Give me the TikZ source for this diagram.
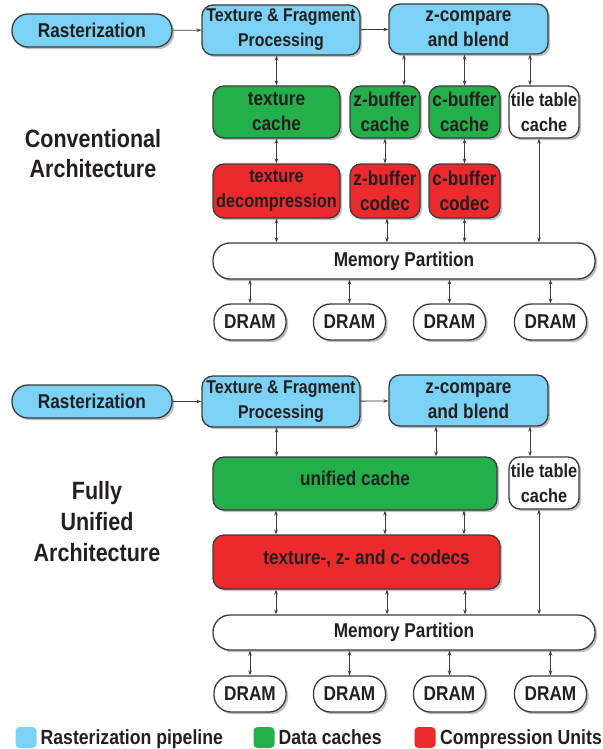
\documentclass[tikz,border=0pt]{standalone}
\usepackage{fontspec}
\setmainfont{Liberation Sans}[FakeStretch=0.86]
\usetikzlibrary{arrows.meta, shadows}
\definecolor{pipeblue}{HTML}{7CD2F4}
\definecolor{cachegreen}{HTML}{23B04B}
\definecolor{codecred}{HTML}{EC2A2E}
\definecolor{inkdark}{HTML}{231F20}
\definecolor{edgegray}{HTML}{3C3C3C}

\begin{document}
\begin{tikzpicture}[x=1pt, y=-1pt,
  >={Stealth[length=5pt, width=3.6pt]},
  unit/.style={draw=edgegray, line width=1.3pt, rounded corners=11pt,
    text=inkdark, align=center, inner sep=0pt,
    font=\fontsize{20}{25}\selectfont\bfseries,
    drop shadow={shadow xshift=2.2pt, shadow yshift=-2.2pt, opacity=0.5}},
  pipe/.style={unit, fill=pipeblue},
  cache/.style={unit, fill=cachegreen},
  codec/.style={unit, fill=codecred},
  plain/.style={unit, fill=white},
  pill/.style={unit, fill=white, rounded corners=17pt},
  link/.style={<->, draw=edgegray, line width=0.9pt},
  flow/.style={->, draw=edgegray, line width=0.9pt},
  keybox/.style={minimum size=21pt, rounded corners=4pt, inner sep=0pt},
  keytext/.style={anchor=base west, inner sep=0pt, text=inkdark,
    font=\fontsize{20.5}{24}\selectfont\bfseries},
]

\useasboundingbox (0,0) rectangle (602,749);

% =============================================
% Conventional architecture
% =============================================
\node[font=\fontsize{25}{30}\selectfont\bfseries, text=inkdark, align=center]
  (conv) at (93,154) {Conventional\\Architecture};

\node[pipe, rounded corners=16pt, minimum width=160pt, minimum height=33pt]
  (ras1) at (92,30.5) {Rasterization};
\node[pipe, minimum width=158pt, minimum height=50pt,
      font=\fontsize{18.5}{25}\selectfont\bfseries]
  (tex1) at (281,30) {Texture \& Fragment\\Processing};
\node[pipe, minimum width=159pt, minimum height=50pt]
  (zcmp1) at (468.5,29) {z-compare\\and blend};

\node[cache, minimum width=127pt, minimum height=52pt] (tcache) at (276.5,112) {texture\\cache};
\node[cache, minimum width=70pt, minimum height=52pt] (zbuf) at (385,112) {z-buffer\\cache};
\node[cache, minimum width=71pt, minimum height=52pt] (cbuf) at (464.5,112) {c-buffer\\cache};
\node[plain, minimum width=70pt, minimum height=52pt,
      font=\fontsize{19}{25}\selectfont\bfseries]
  (ttc1) at (544,112) {tile table\\cache};

\node[codec, minimum width=127pt, minimum height=54pt,
      font=\fontsize{19}{25}\selectfont\bfseries]
  (tdec) at (276.5,191) {texture\\decompression};
\node[codec, minimum width=70pt, minimum height=54pt] (zcod) at (385,191) {z-buffer\\codec};
\node[codec, minimum width=71pt, minimum height=54pt] (ccod) at (464.5,191) {c-buffer\\codec};

\node[pill, minimum width=382pt, minimum height=36pt] (mem1) at (404,261) {Memory Partition};
\foreach \i/\x in {1/250, 2/349.5, 3/449.5, 4/550.5}
  \node[pill, minimum width=72pt, minimum height=36pt] (dramA\i) at (\x,322) {DRAM};

% pipeline
\draw[flow] (ras1) -- (tex1);
\draw[flow] (tex1) -- (zcmp1);

% caches and codecs
\draw[link] (tcache.north |- tex1.south) -- (tcache.north);
\draw[link] ([xshift=19pt]zbuf.north |- zcmp1.south) -- ([xshift=19pt]zbuf.north);
\draw[link] (cbuf.north |- zcmp1.south) -- (cbuf.north);
\draw[link] ([xshift=-14pt]ttc1.north |- zcmp1.south) -- ([xshift=-14pt]ttc1.north);
\draw[link] (tcache) -- (tdec);
\draw[link] (zbuf) -- (zcod);
\draw[link] (cbuf) -- (ccod);
\draw[link] (tdec.south) -- (tdec.south |- mem1.north);
\draw[link] ([xshift=2pt]zcod.south) -- ([xshift=2pt]zcod.south |- mem1.north);
\draw[link] (ccod.south) -- (ccod.south |- mem1.north);
\draw[link] ([xshift=-5pt]ttc1.south) -- ([xshift=-5pt]ttc1.south |- mem1.north);
\foreach \i in {1,...,4}
  \draw[link] (dramA\i.north |- mem1.south) -- (dramA\i.north);

% =============================================
% Fully unified architecture
% =============================================
\node[font=\fontsize{25}{31}\selectfont\bfseries, text=inkdark, align=center]
  (unif) at (97,522) {Fully\\Unified\\Architecture};

\node[pipe, rounded corners=16pt, minimum width=160pt, minimum height=33pt]
  (ras2) at (92,401.5) {Rasterization};
\node[pipe, minimum width=158pt, minimum height=51pt,
      font=\fontsize{18.5}{25}\selectfont\bfseries]
  (tex2) at (281,401.5) {Texture \& Fragment\\Processing};
\node[pipe, minimum width=159pt, minimum height=51pt]
  (zcmp2) at (468.5,400.5) {z-compare\\and blend};

\node[cache, minimum width=284pt, minimum height=53pt, text depth=10pt]
  (ucache) at (355,483.5) {unified cache};
\node[plain, minimum width=70pt, minimum height=52pt,
      font=\fontsize{19}{25}\selectfont\bfseries]
  (ttc2) at (544,483) {tile table\\cache};
\node[codec, minimum width=287pt, minimum height=54pt, text depth=10pt]
  (ucodec) at (356.5,562) {\hspace*{20pt}texture-, z- and c- codecs};

\node[pill, minimum width=382pt, minimum height=35pt] (mem2) at (404,632.5) {Memory Partition};
\foreach \i/\x in {1/250, 2/349.5, 3/449.5, 4/550.5}
  \node[pill, minimum width=72pt, minimum height=36pt] (dramB\i) at (\x,694) {DRAM};

% pipeline
\draw[flow] (ras2) -- (tex2);
\draw[flow] (tex2) -- (zcmp2);

% unified cache and codecs
\draw[link] (tcache.north |- tex2.south) -- (tcache.north |- ucache.north);
\draw[link] ([xshift=81pt]ucache.north |- zcmp2.south) -- ([xshift=81pt]ucache.north);
\draw[link] ([xshift=-14pt]ttc2.north |- zcmp2.south) -- ([xshift=-14pt]ttc2.north);
\foreach \x in {276, 385, 464}
  \draw[link] (ucache.south -| \x,0) -- (ucodec.north -| \x,0);
\foreach \x in {276, 387, 465}
  \draw[link] (ucodec.south -| \x,0) -- (mem2.north -| \x,0);
\draw[link] ([xshift=-5pt]ttc2.south) -- ([xshift=-5pt]ttc2.south |- mem2.north);
\foreach \i in {1,...,4}
  \draw[link] (dramB\i.north |- mem2.south) -- (dramB\i.north);

% =============================================
% Legend
% =============================================
\node[keybox, fill=pipeblue] (keyA) at (26,737.5) {};
\node[keytext] (keyAtext) at (40.5,744) {Rasterization pipeline};
\node[keybox, fill=cachegreen] (keyB) at (264,737.5) {};
\node[keytext] (keyBtext) at (278.5,744) {Data caches};
\node[keybox, fill=codecred] (keyC) at (425,737.5) {};
\node[keytext] (keyCtext) at (440,744) {Compression Units};

\end{tikzpicture}
\end{document}
